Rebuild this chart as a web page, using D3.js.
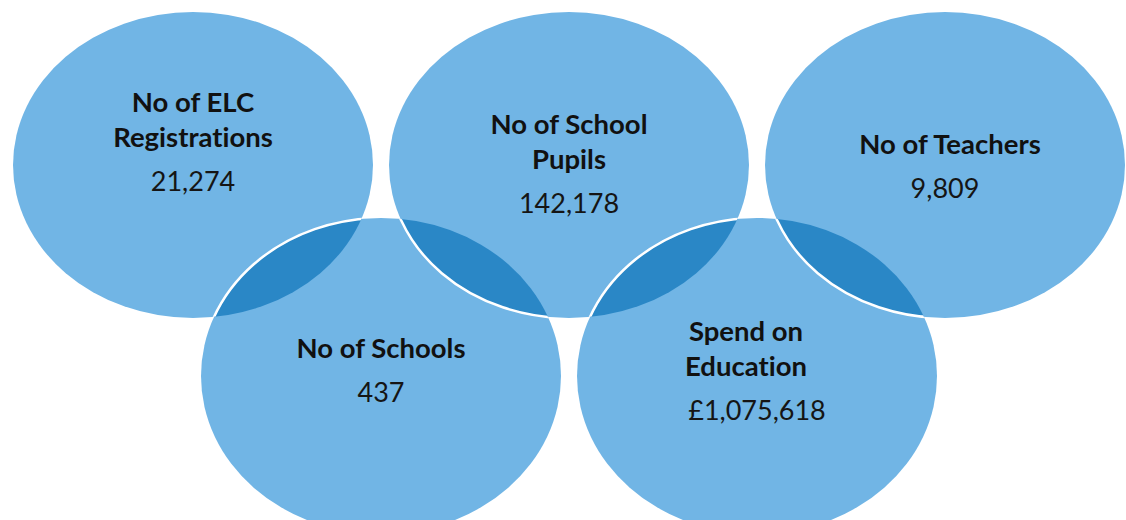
<!DOCTYPE html>
<html>
<head>
<meta charset="utf-8">
<script src="https://cdn.jsdelivr.net/npm/d3@7"></script>
<style>
  body { margin: 0; background: #fff; }
  svg { display: block; }
  text { font-variant-ligatures: none; }
</style>
</head>
<body>
<div id="chart-container"></div>
<script>
// data, in left-to-right order of the rings
const labels = [
  ["No of ELC", "Registrations"],
  ["No of Schools"],
  ["No of School", "Pupils"],
  ["Spend on", "Education"],
  ["No of Teachers"]
];
const values = [21274, 437, 142178, 1075618, 9809];
const prefixes = ["", "", "", "£", ""];
const columns = [0, 1, 2, 3, 4];
const rows = [0, 1, 0, 1, 0];

const width = 1126;
const height = 520;
const light = "#71b5e5";
const dark = "#2a87c6";

const xScale = d3.scaleLinear().domain([0, 4]).range([193, 945]);
const yScale = d3.scaleLinear().domain([0, 1]).range([165, 376]);
const rx = 180;
const ryByRow = [153, 158];
// small hand nudges for the text blocks (value baseline below centre)
const valueDrop = [26, 26, 48, 44, 33];
const labelNudge = [0, 0, 0, -11, 5];

const fmt = d3.format(",");

const items = labels.map((l, i) => ({
  lines: l,
  text: prefixes[i] + fmt(values[i]),
  cx: xScale(columns[i]),
  cy: yScale(rows[i]),
  ry: ryByRow[rows[i]],
  i
}));

const svg = d3
  .select("#chart-container")
  .append("svg")
  .attr("width", width)
  .attr("height", height);

const defs = svg.append("defs");
defs
  .selectAll("clipPath")
  .data(items)
  .join("clipPath")
  .attr("id", d => "clip" + d.i)
  .append("ellipse")
  .attr("cx", d => d.cx)
  .attr("cy", d => d.cy)
  .attr("rx", rx)
  .attr("ry", d => d.ry);

svg
  .selectAll("ellipse.ring")
  .data(items)
  .join("ellipse")
  .attr("class", "ring")
  .attr("cx", d => d.cx)
  .attr("cy", d => d.cy)
  .attr("rx", rx)
  .attr("ry", d => d.ry)
  .attr("fill", light);

// overlaps: the later ring lies over the earlier one
const pairs = d3.pairs(items);

svg
  .selectAll("ellipse.lens")
  .data(pairs)
  .join("ellipse")
  .attr("class", "lens")
  .attr("clip-path", d => `url(#clip${d[0].i})`)
  .attr("cx", d => d[1].cx)
  .attr("cy", d => d[1].cy)
  .attr("rx", rx)
  .attr("ry", d => d[1].ry)
  .attr("fill", dark);

svg
  .selectAll("ellipse.edge")
  .data(pairs)
  .join("ellipse")
  .attr("class", "edge")
  .attr("clip-path", d => `url(#clip${d[0].i})`)
  .attr("cx", d => d[1].cx)
  .attr("cy", d => d[1].cy)
  .attr("rx", rx)
  .attr("ry", d => d[1].ry)
  .attr("fill", "none")
  .attr("stroke", "#fff")
  .attr("stroke-width", 2.5);

const groups = svg
  .selectAll("g.label")
  .data(items)
  .join("g")
  .attr("class", "label")
  .attr("font-family", "Lato, 'Open Sans', sans-serif")
  .attr("text-anchor", "middle");

groups.each(function (d) {
  const g = d3.select(this);
  const base = d.cy + valueDrop[d.i];
  const n = d.lines.length;
  d.lines.forEach((line, k) => {
    g.append("text")
      .attr("x", d.cx + labelNudge[d.i])
      .attr("y", base - 44 - (n - 1 - k) * 35)
      .attr("font-size", 27.5)
      .attr("font-weight", "bold")
      .attr("fill", "#111")
      .text(line);
  });
  g.append("text")
    .attr("x", d.cx)
    .attr("y", base)
    .attr("font-size", 27)
    .attr("fill", "#151515")
    .text(d.text);
});
</script>
</body>
</html>
